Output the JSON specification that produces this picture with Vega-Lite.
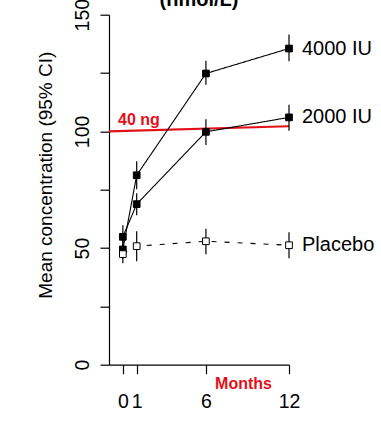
{
  "$schema": "https://vega.github.io/schema/vega-lite/v6.json",
  "width": 180,
  "height": 350,
  "autosize": "none",
  "padding": {"left": 109, "top": 14.7, "right": 92, "bottom": 65.3},
  "background": "white",
  "title": {"text": "(nmol/L)", "fontSize": 20, "fontWeight": "bold", "font": "Liberation Sans", "baseline": "alphabetic", "offset": -28, "anchor": "middle", "frame": "group", "color": "black"},
  "config": {
    "view": {"stroke": null},
    "font": "Liberation Sans",
    "axis": {"domainColor": "black", "tickColor": "black", "labelColor": "black", "titleColor": "black", "grid": false, "domainWidth": 1.2, "tickWidth": 1.2, "labelFont": "Liberation Sans", "titleFont": "Liberation Sans"}
  },
  "datasets": {
    "series": [
      {"group": "4000 IU", "month": 0, "mean": 49.4, "lo": 45.4, "hi": 53.4},
      {"group": "4000 IU", "month": 1, "mean": 81.2, "lo": 75.2, "hi": 87.2},
      {"group": "4000 IU", "month": 6, "mean": 124.8, "lo": 120.0, "hi": 130.3},
      {"group": "4000 IU", "month": 12, "mean": 135.5, "lo": 130.0, "hi": 141.5},
      {"group": "2000 IU", "month": 0, "mean": 54.8, "lo": 49.8, "hi": 59.8},
      {"group": "2000 IU", "month": 1, "mean": 68.8, "lo": 64.0, "hi": 73.5},
      {"group": "2000 IU", "month": 6, "mean": 99.8, "lo": 94.2, "hi": 105.2},
      {"group": "2000 IU", "month": 12, "mean": 106.0, "lo": 100.3, "hi": 111.4},
      {"group": "Placebo", "month": 0, "mean": 47.4, "lo": 43.5, "hi": 51.3},
      {"group": "Placebo", "month": 1, "mean": 50.8, "lo": 44.3, "hi": 57.2},
      {"group": "Placebo", "month": 6, "mean": 52.9, "lo": 47.3, "hi": 58.3},
      {"group": "Placebo", "month": 12, "mean": 51.2, "lo": 45.6, "hi": 56.8}
    ],
    "threshold": [
      {"label": "40 ng", "month": -1, "value": 100.0},
      {"label": "40 ng", "month": 12, "value": 102.2}
    ]
  },
  "encoding": {
    "x": {"field": "month", "type": "quantitative", "scale": {"domain": [-1, 12], "nice": false, "zero": false},
      "axis": {"values": [0, 1, 6, 12], "tickSize": 9, "labelFontSize": 19.5, "labelPadding": 19, "labelOverlap": false, "labelFlush": false,
        "title": "Months", "titleColor": "#e3101a", "titleFontWeight": "bold", "titleFontSize": 16, "titleX": 134, "titleY": 23.5, "titleBaseline": "alphabetic", "titleAlign": "center"}}
  },
  "layer": [
    {
      "data": {"name": "threshold"},
      "mark": {"type": "line", "color": "#e3101a", "strokeWidth": 2.2},
      "encoding": {"y": {"field": "value", "type": "quantitative", "scale": {"domain": [0, 150], "nice": false},
        "axis": {"values": [0, 25, 50, 75, 100, 125, 150], "labelExpr": "datum.value % 50 === 0 ? datum.label : ''", "labelAngle": -90, "labelAlign": "center", "labelBaseline": "alphabetic", "labelPadding": 12, "tickSize": 9, "labelFontSize": 19.5,
          "title": "Mean concentration (95% CI)", "titleFontSize": 19, "titleFontWeight": "normal", "titleX": -57.3, "titleY": 160, "titleAngle": -90, "titleAlign": "center", "titleBaseline": "alphabetic"}}}
    },
    {
      "data": {"name": "threshold"},
      "transform": [{"filter": "datum.month === -1"}],
      "mark": {"type": "text", "color": "#e3101a", "fontWeight": "bold", "fontSize": 16, "align": "left", "baseline": "alphabetic", "dx": 9, "dy": -6},
      "encoding": {"y": {"field": "value", "type": "quantitative"}, "text": {"field": "label"}}
    },
    {
      "data": {"name": "series"},
      "mark": {"type": "rule", "color": "black", "strokeWidth": 1.2},
      "encoding": {"y": {"field": "lo", "type": "quantitative"}, "y2": {"field": "hi"}}
    },
    {
      "data": {"name": "series"},
      "mark": {"type": "line", "color": "black", "strokeWidth": 1.1},
      "encoding": {
        "y": {"field": "mean", "type": "quantitative"},
        "detail": {"field": "group"},
        "strokeDash": {"field": "group", "type": "nominal", "scale": {"domain": ["4000 IU", "2000 IU", "Placebo"], "range": [[1, 0], [1, 0], [5, 8]]}, "legend": null}
      }
    },
    {
      "data": {"name": "series"},
      "mark": {"type": "point", "shape": "square", "size": 45, "filled": true, "stroke": "black", "strokeWidth": 1, "opacity": 1},
      "encoding": {
        "y": {"field": "mean", "type": "quantitative"},
        "fill": {"field": "group", "type": "nominal", "scale": {"domain": ["4000 IU", "2000 IU", "Placebo"], "range": ["black", "black", "white"]}, "legend": null}
      }
    },
    {
      "data": {"name": "series"},
      "transform": [{"filter": "datum.month === 12"}],
      "mark": {"type": "text", "color": "black", "fontSize": 20, "align": "left", "baseline": "middle", "dx": 13},
      "encoding": {"y": {"field": "mean", "type": "quantitative"}, "text": {"field": "group"}}
    }
  ]
}
